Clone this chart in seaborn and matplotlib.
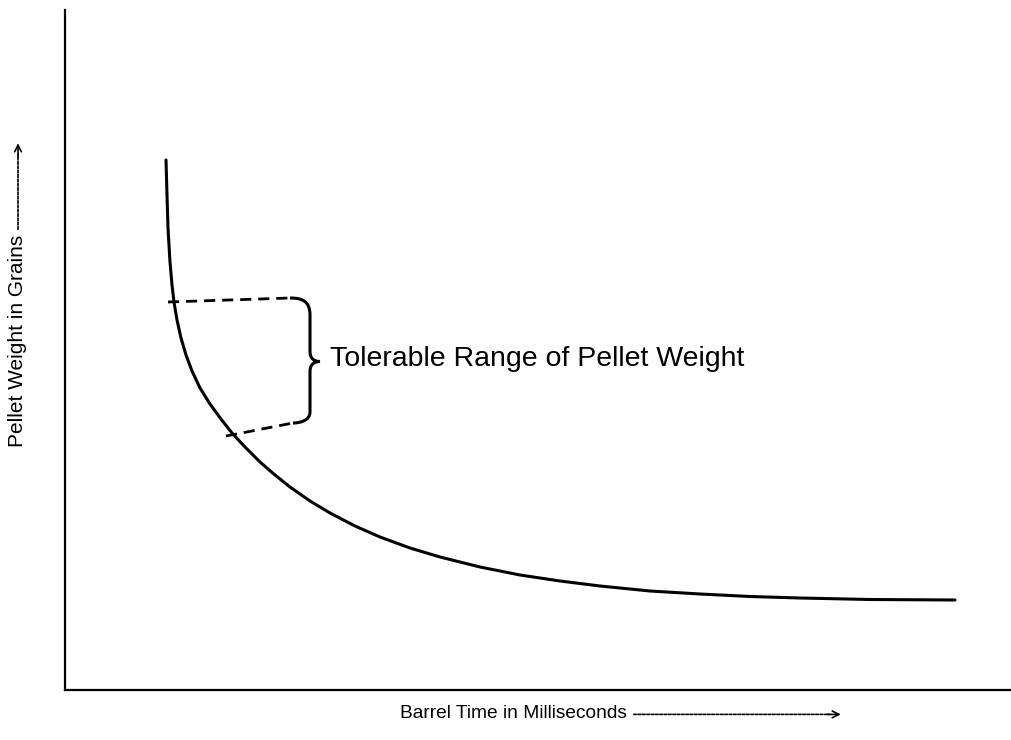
import numpy as np
import pandas as pd
import matplotlib
matplotlib.use("Agg")
import matplotlib.pyplot as plt
import seaborn as sns
from matplotlib.path import Path
from matplotlib.patches import PathPatch
from matplotlib.text import OffsetFrom

# Pellet weight vs barrel time (arbitrary units)
barrel_time = [101, 102, 103, 105, 107, 109, 112, 116, 121, 127, 135, 145,
               156, 167, 180, 195, 210, 225, 245, 265, 290, 315, 345, 375,
               415, 455, 495, 535, 585, 635, 685, 735, 805, 890]
pellet_weight = [530, 495, 462, 428, 405, 388, 370, 352, 335, 319, 302, 286,
                 271, 257, 243, 228, 215, 203, 189, 177, 164, 153, 142, 133,
                 123, 115, 109, 104, 99, 96, 93.5, 92, 90.5, 90]

# Tolerable range limits on the curve and where the dashed guides end
range_upper = (109, 388)
range_lower = (167, 257)
guide_upper_end = (225, 392)
guide_lower_end = (228, 267)

x_label = "Barrel Time in Milliseconds"
y_label = "Pellet Weight in Grains"
range_label = "Tolerable Range of Pellet Weight"

sns.set_theme(style="white")
plt.rcParams["font.family"] = ["Liberation Sans", "DejaVu Sans"]
plt.rcParams["text.color"] = "black"

fig = plt.figure(figsize=(10.12, 7.4), dpi=100)
ax = fig.add_axes([65 / 1012, 50 / 740, 947 / 1012, 680 / 740])

df = pd.DataFrame({"time": barrel_time, "weight": pellet_weight})
sns.lineplot(data=df, x="time", y="weight", sort=False, estimator=None,
             color="black", lw=2.2, ax=ax)

# Dashed guides from the curve out to the brace
ax.plot([range_upper[0] - 6, guide_upper_end[0]],
        [range_upper[1], guide_upper_end[1]],
        color="black", lw=2.0, ls=(0, (4, 2.5)))
ax.plot([range_lower[0] - 6, guide_lower_end[0]],
        [range_lower[1] - 3, guide_lower_end[1]],
        color="black", lw=2.0, ls=(0, (4, 2.5)))

# Curly brace joining the two guides
bx = 245
tip = (255, (guide_upper_end[1] + guide_lower_end[1]) / 2 - 1)
ux, uy = guide_upper_end
lx, ly = guide_lower_end
verts = [
    (ux, uy),
    (ux + 12, uy), (bx, uy - 3), (bx, uy - 17),
    (bx, tip[1] + 10),
    (bx, tip[1] + 3), (bx + 4, tip[1]), tip,
    (bx + 4, tip[1]), (bx, tip[1] - 3), (bx, tip[1] - 10),
    (bx, ly + 11),
    (bx, ly + 3), (lx + 8, ly), (lx, ly),
]
codes = [Path.MOVETO,
         Path.CURVE4, Path.CURVE4, Path.CURVE4,
         Path.LINETO,
         Path.CURVE4, Path.CURVE4, Path.CURVE4,
         Path.CURVE4, Path.CURVE4, Path.CURVE4,
         Path.LINETO,
         Path.CURVE4, Path.CURVE4, Path.CURVE4]
ax.add_patch(PathPatch(Path(verts, codes), fill=False, lw=2.2, ec="black"))

ax.text(tip[0] + 10, tip[1] + 2, range_label, fontsize=20.5, va="center",
        ha="left", color="black")

ax.set_xlim(0, 947)
ax.set_ylim(0, 680)
ax.set_xticks([])
ax.set_yticks([])
ax.set_xlabel("")
ax.set_ylabel("")
for side in ("top", "right"):
    ax.spines[side].set_visible(False)
for side in ("left", "bottom"):
    ax.spines[side].set_color("black")
    ax.spines[side].set_linewidth(1.6)

# Axis titles with dotted direction arrows
xl = fig.text(400 / 1012, 1 - 713 / 740, x_label, fontsize=13.8,
              ha="left", va="center", color="black")
yl = fig.text(18 / 1012, 1 - 341 / 740, y_label, fontsize=15,
              rotation=90, ha="center", va="center", color="black")

x_from = OffsetFrom(xl, (1, 0.5), unit="points")
ax.annotate("", xy=(146, -1), xycoords=x_from, xytext=(5, -1),
            textcoords=x_from,
            arrowprops=dict(arrowstyle="-", lw=1.2, ls=(0, (1.6, 1.0)),
                            color="black", shrinkA=0, shrinkB=0))
ax.annotate("", xy=(154, -1), xycoords=x_from, xytext=(144, -1),
            textcoords=x_from,
            arrowprops=dict(arrowstyle="->", lw=1.2, color="black",
                            shrinkA=0, shrinkB=0))

y_from = OffsetFrom(yl, (0.5, 1), unit="points")
ax.annotate("", xy=(0, 58), xycoords=y_from, xytext=(0, 4),
            textcoords=y_from,
            arrowprops=dict(arrowstyle="-", lw=1.2, ls=(0, (1.6, 1.0)),
                            color="black", shrinkA=0, shrinkB=0))
ax.annotate("", xy=(0, 66), xycoords=y_from, xytext=(0, 56),
            textcoords=y_from,
            arrowprops=dict(arrowstyle="->", lw=1.2, color="black",
                            shrinkA=0, shrinkB=0))

fig.savefig("out.png", dpi=100)
